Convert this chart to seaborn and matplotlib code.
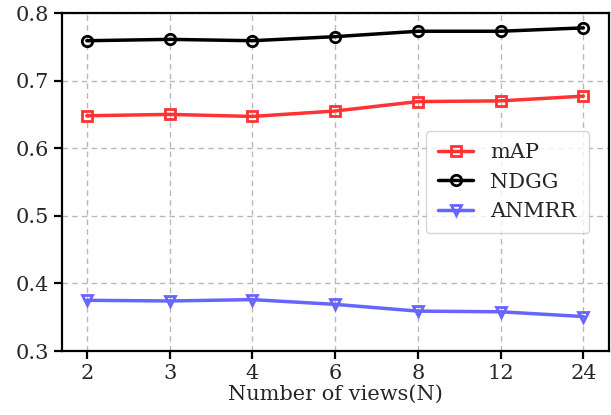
import matplotlib
matplotlib.use("Agg")
import matplotlib.pyplot as plt
import seaborn as sns
import pandas as pd

views = ["2", "3", "4", "6", "8", "12", "24"]
mAP = [0.648, 0.650, 0.647, 0.655, 0.669, 0.670, 0.677]
NDGG = [0.759, 0.761, 0.759, 0.765, 0.773, 0.773, 0.778]
ANMRR = [0.375, 0.374, 0.376, 0.369, 0.359, 0.358, 0.351]

sns.set_style("ticks")
plt.rcParams["font.family"] = ["DejaVu Serif"]
FS = 15
plt.rcParams["font.size"] = FS

series = [("mAP", mAP, "#ff3333", "s"),
          ("NDGG", NDGG, "#000000", "o"),
          ("ANMRR", ANMRR, "#6666ff", "v")]

fig = plt.figure(figsize=(6.11, 4.15), dpi=100)
ax = fig.add_axes([62 / 611, 1 - 351 / 415, (609 - 62) / 611, (351 - 13) / 415])

for name, vals, color, mk in series:
    d = pd.DataFrame({"pos": range(len(vals)), "value": vals})
    sns.lineplot(data=d, x="pos", y="value", color=color, marker=mk, ax=ax,
                 linewidth=2.5, markersize=7.5, label=name, legend=False)
    ln = ax.lines[-1]
    ln.set_markerfacecolor("none")
    ln.set_markeredgecolor(color)
    ln.set_markeredgewidth(2)
    ln.set_label(name)

ax.set_xlim(-0.3, 6.31)
ax.set_ylim(0.3, 0.8)
ax.set_xticks(range(len(views)))
ax.set_xticklabels(views)
ax.set_yticks([0.3, 0.4, 0.5, 0.6, 0.7, 0.8])
ax.set_xlabel("Number of views(N)", fontsize=FS, labelpad=1)
ax.set_ylabel("")
ax.grid(True, linestyle=(0, (4, 3)), color="#b8b8b8", linewidth=1)
for s in ax.spines.values():
    s.set_linewidth(1.6)
    s.set_color("black")
ax.tick_params(axis="both", length=6, width=1.6, labelsize=FS, color="black")

ax.legend(handles=list(ax.lines), labels=[s[0] for s in series],
          loc="center right", bbox_to_anchor=(0.982, 0.5),
          fontsize=FS, frameon=True, handlelength=1.7, borderpad=0.6)
fig.savefig("out.png", dpi=100)
